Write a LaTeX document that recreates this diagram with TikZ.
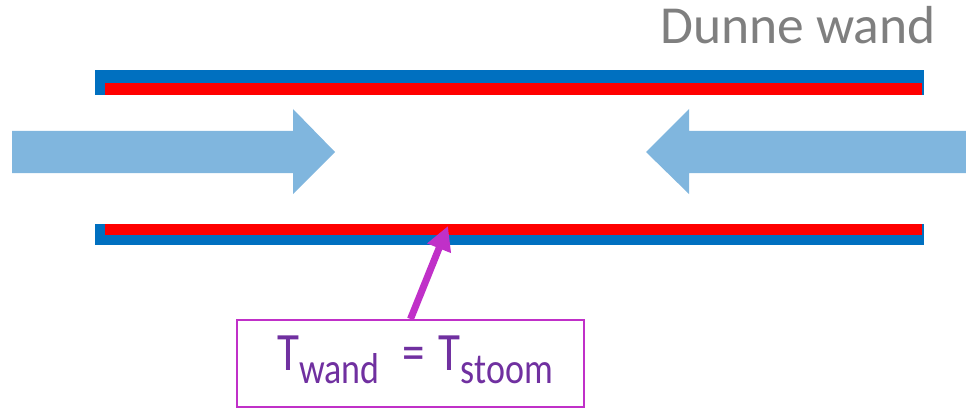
\documentclass[tikz,border=0pt]{standalone}
\usepackage{fontspec}
\setmainfont{Carlito}
\usetikzlibrary{arrows.meta}
\definecolor{wallblue}{HTML}{0070C0}
\definecolor{wallred}{HTML}{FF0000}
\definecolor{flowblue}{HTML}{80B6DE}
\definecolor{pointer}{HTML}{C030C8}
\definecolor{txtpurple}{HTML}{7030A0}
\definecolor{titlegray}{HTML}{7F7F7F}
\tikzset{
  flow/.style={fill=flowblue},
  labelbox/.style={draw=pointer, line width=2pt, minimum width=347pt, minimum height=87pt, inner sep=0pt},
  pointerarrow/.style={draw=pointer, line width=7pt, -{Triangle[length=24pt,width=24pt]}},
}
\begin{document}
\begin{tikzpicture}[x=1pt,y=-1pt]
\useasboundingbox (0,0) rectangle (966,409);
% top wall
\fill[wallblue] (95,70) rectangle (924,95);
\fill[wallred] (105,83) rectangle (922,95);
% bottom wall
\fill[wallblue] (95,224) rectangle (924,245);
\fill[wallred] (105,224) rectangle (922,235);
% flow arrows
\fill[flow] (12,131) -- (293,131) -- (293,109) -- (335,152) -- (293,194) -- (293,173) -- (12,173) -- cycle;
\fill[flow] (966,131) -- (689,131) -- (689,109) -- (646,152) -- (689,194) -- (689,173) -- (966,173) -- cycle;
% title
\node[anchor=base west, inner sep=0pt, text=titlegray, font=\fontsize{53.5}{60}\selectfont] (title) at (660,44) {Dunne wand};
% label box
\node[labelbox] (box) at (410.5,363.5) {};
\node[anchor=base west, inner sep=0pt, text=txtpurple] (lbl) at (277,370)
  {\scalebox{1}[1.2]{\fontsize{45}{50}\selectfont T\raisebox{-11pt}{\fontsize{36}{40}\selectfont wand}\hspace{23pt}=\hspace{14pt}T\raisebox{-11pt}{\fontsize{36}{40}\selectfont stoom}}};
\coordinate (tip) at (448,226);
\draw[pointerarrow] (box.north) -- (tip);
\end{tikzpicture}
\end{document}
